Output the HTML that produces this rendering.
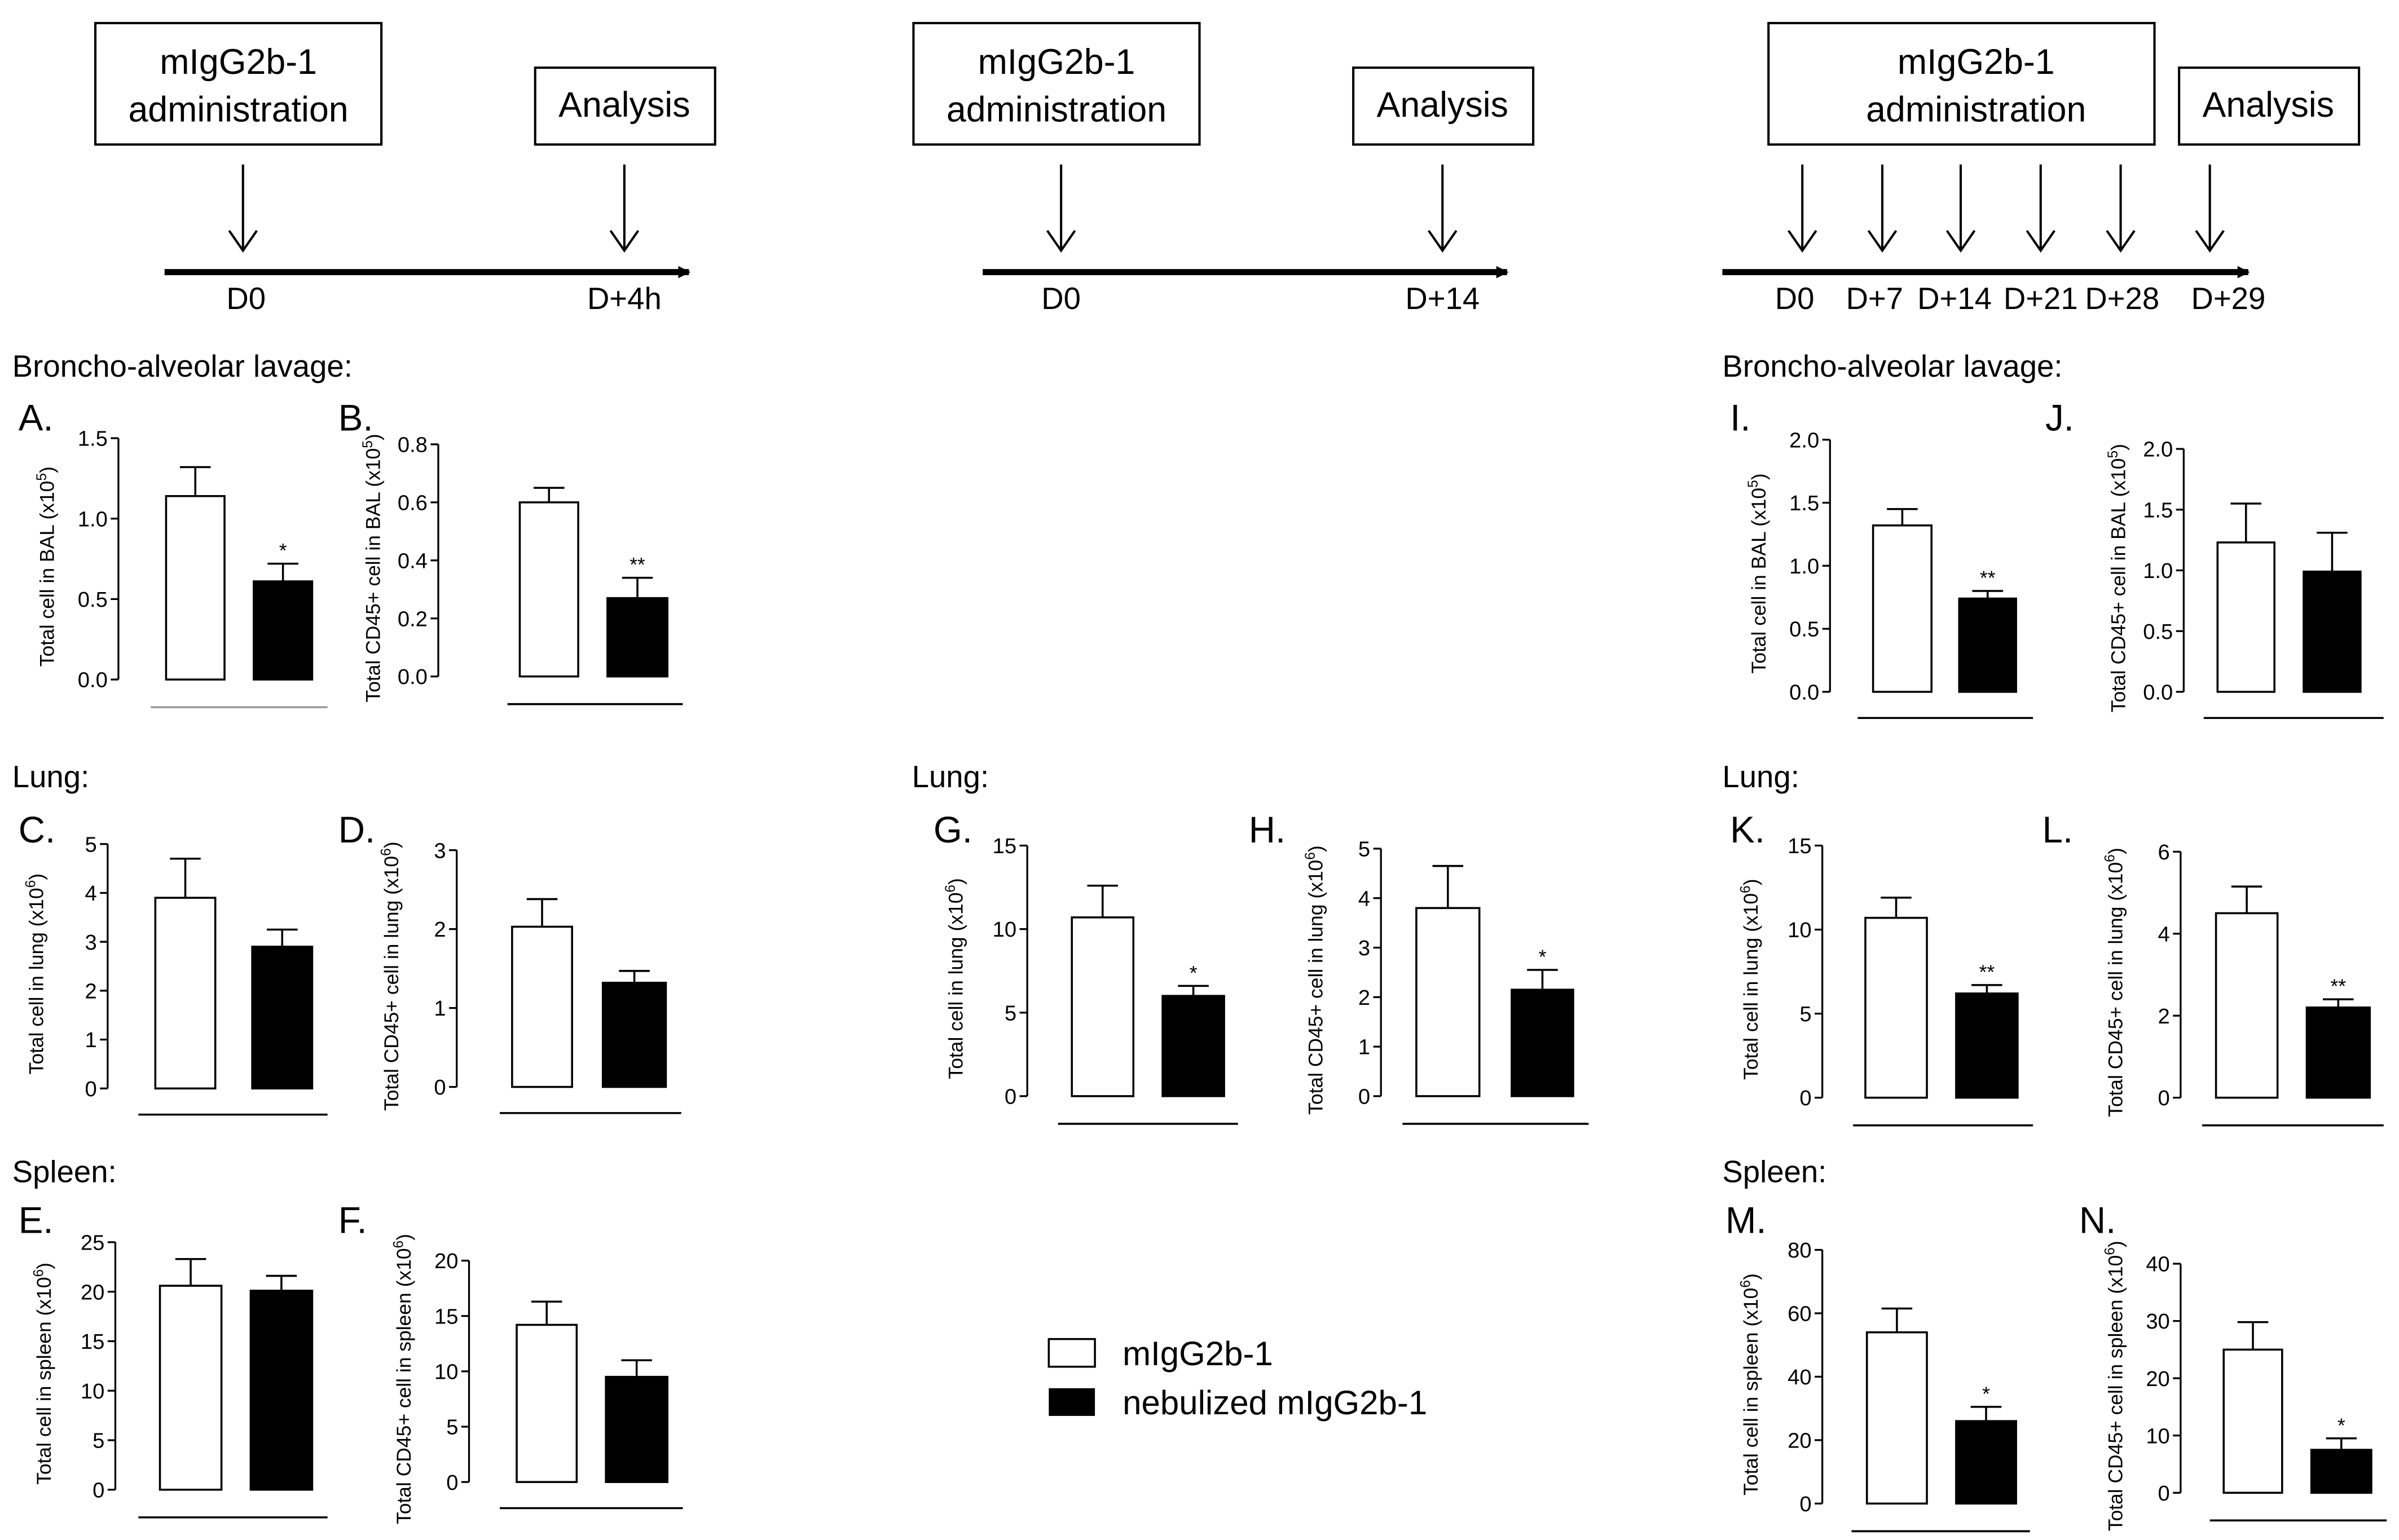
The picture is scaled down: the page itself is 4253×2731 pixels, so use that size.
<!DOCTYPE html>
<html><head><meta charset="utf-8"><style>
html,body{margin:0;padding:0;background:#fff;}
svg{display:block;font-family:"Liberation Sans",Arial,sans-serif;}
</style></head><body>
<svg id="fig" width="4253" height="2731" viewBox="0 0 1560 1001.7" xmlns="http://www.w3.org/2000/svg">
<defs><marker id="ah" markerWidth="8" markerHeight="8" refX="7" refY="4" orient="auto" markerUnits="userSpaceOnUse"><path d="M0,0 L8,4 L0,8 z" fill="#000"/></marker></defs>
<g id="timelines" font-size="23" fill="#000">
  <rect x="62" y="15" width="186" height="79" fill="#fff" stroke="#000" stroke-width="1.5"/>
  <text x="155" y="48" text-anchor="middle">mIgG2b-1</text>
  <text x="155" y="79" text-anchor="middle">administration</text>
  <rect x="348" y="44" width="117" height="50" fill="#fff" stroke="#000" stroke-width="1.5"/>
  <text x="406" y="76" text-anchor="middle">Analysis</text>
  <rect x="594" y="15" width="186" height="79" fill="#fff" stroke="#000" stroke-width="1.5"/>
  <text x="687" y="48" text-anchor="middle">mIgG2b-1</text>
  <text x="687" y="79" text-anchor="middle">administration</text>
  <rect x="880" y="44" width="117" height="50" fill="#fff" stroke="#000" stroke-width="1.5"/>
  <text x="938" y="76" text-anchor="middle">Analysis</text>
  <rect x="1150" y="15" width="251" height="79" fill="#fff" stroke="#000" stroke-width="1.5"/>
  <text x="1285" y="48" text-anchor="middle">mIgG2b-1</text>
  <text x="1285" y="79" text-anchor="middle">administration</text>
  <rect x="1417" y="44" width="117" height="50" fill="#fff" stroke="#000" stroke-width="1.5"/>
  <text x="1475" y="76" text-anchor="middle">Analysis</text>
</g>
<g id="charts"></g>
<g font-size="22">
  <rect x="682" y="871" width="30" height="18" fill="#fff" stroke="#000" stroke-width="1.3"/>
  <text x="730" y="888">mIgG2b-1</text>
  <rect x="682" y="903" width="30" height="18" fill="#000"/>
  <text x="730" y="920">nebulized mIgG2b-1</text>
</g>
</svg>
<script>
var NS="http://www.w3.org/2000/svg";
// timelines data
var tl1Days=["D0","D+4h"];
var tl2Days=["D0","D+14"];
var tl3Days=["D0","D+7","D+14","D+21","D+28","D+29"];
// panel values: [control, nebulized]
var panelIds=["A","B","I","J","C","D","G","H","K","L","E","F","M","N"];
var meanA=[1.14,0.61], errA=[1.32,0.72], ticksA=["0.0","0.5","1.0","1.5"];
var meanB=[0.60,0.27], errB=[0.65,0.34], ticksB=["0.0","0.2","0.4","0.6","0.8"];
var meanI=[1.32,0.74], errI=[1.45,0.80], ticksI=["0.0","0.5","1.0","1.5","2.0"];
var meanJ=[1.23,0.99], errJ=[1.55,1.31], ticksJ=["0.0","0.5","1.0","1.5","2.0"];
var meanC=[3.9,2.9], errC=[4.7,3.25], ticksC=["0","1","2","3","4","5"];
var meanD=[2.03,1.32], errD=[2.38,1.47], ticksD=["0","1","2","3"];
var meanG=[10.7,6.0], errG=[12.6,6.6], ticksG=["0","5","10","15"];
var meanH=[3.8,2.15], errH=[4.65,2.55], ticksH=["0","1","2","3","4","5"];
var meanK=[10.7,6.2], errK=[11.9,6.7], ticksK=["0","5","10","15"];
var meanL=[4.5,2.2], errL=[5.15,2.4], ticksL=["0","2","4","6"];
var meanE=[20.6,20.1], errE=[23.3,21.6], ticksE=["0","5","10","15","20","25"];
var meanF=[14.2,9.5], errF=[16.3,11.0], ticksF=["0","5","10","15","20"];
var meanM=[54,26], errM=[61.5,30.5], ticksM=["0","20","40","60","80"];
var meanN=[25,7.5], errN=[29.8,9.5], ticksN=["0","10","20","30","40"];
var sigLabels={A:"*",B:"**",I:"**",J:"",C:"",D:"",G:"*",H:"*",K:"**",L:"**",E:"",F:"",M:"*",N:"*"};
var yTitles={A:"Total cell in BAL (x10",B:"Total CD45+ cell in BAL (x10",I:"Total cell in BAL (x10",J:"Total CD45+ cell in BAL (x10",
C:"Total cell in lung (x10",D:"Total CD45+ cell in lung (x10",G:"Total cell in lung (x10",H:"Total CD45+ cell in lung (x10",
K:"Total cell in lung (x10",L:"Total CD45+ cell in lung (x10",E:"Total cell in spleen (x10",F:"Total CD45+ cell in spleen (x10",
M:"Total cell in spleen (x10",N:"Total CD45+ cell in spleen (x10"};
var exps={A:"5",B:"5",I:"5",J:"5",C:"6",D:"6",G:"6",H:"6",K:"6",L:"6",E:"6",F:"6",M:"6",N:"6"};
var sectionLabels=[["Broncho-alveolar lavage:",8,245],["Broncho-alveolar lavage:",1120,245],["Lung:",8,512],["Lung:",593,512],["Lung:",1120,512],["Spleen:",8,769],["Spleen:",1120,769]];
// layout (not data)
var L={
A:{ax:77,top:285,bot:442,w:[108,146],b:[165,203],bl:[98,213,460],lx:12,ly:280},
B:{ax:285,top:289,bot:440,w:[338,376],b:[395,434],bl:[330,444,458],lx:220,ly:280},
I:{ax:1190,top:286,bot:450,w:[1218,1256],b:[1274,1311],bl:[1208,1322,467],lx:1125,ly:280},
J:{ax:1420,top:292,bot:450,w:[1442,1479],b:[1498,1535],bl:[1433,1550,467],lx:1330,ly:280},
C:{ax:70,top:549,bot:708,w:[101,140],b:[164,203],bl:[90,213,725],lx:12,ly:548},
D:{ax:297,top:553,bot:707,w:[333,372],b:[392,433],bl:[325,443,724],lx:220,ly:548},
G:{ax:668,top:550,bot:713,w:[697,737],b:[756,796],bl:[688,805,731],lx:607,ly:548},
H:{ax:898,top:552,bot:713,w:[921,962],b:[983,1023],bl:[912,1033,731],lx:812,ly:548},
K:{ax:1185,top:550,bot:714,w:[1213,1253],b:[1272,1312],bl:[1205,1322,732],lx:1125,ly:548},
L:{ax:1418,top:554,bot:714,w:[1441,1481],b:[1500,1541],bl:[1432,1550,732],lx:1328,ly:548},
E:{ax:75,top:808,bot:969,w:[104,144],b:[163,203],bl:[90,213,987],lx:12,ly:802},
F:{ax:305,top:820,bot:964,w:[336,375],b:[394,434],bl:[325,444,981],lx:220,ly:802},
M:{ax:1185,top:813,bot:978,w:[1214,1253],b:[1272,1311],bl:[1204,1320,996],lx:1122,ly:802},
N:{ax:1418,top:822,bot:971,w:[1446,1484],b:[1503,1542],bl:[1437,1552,989],lx:1352,ly:802}};
var DATA={A:[meanA,errA,ticksA],B:[meanB,errB,ticksB],I:[meanI,errI,ticksI],J:[meanJ,errJ,ticksJ],C:[meanC,errC,ticksC],D:[meanD,errD,ticksD],G:[meanG,errG,ticksG],H:[meanH,errH,ticksH],K:[meanK,errK,ticksK],L:[meanL,errL,ticksL],E:[meanE,errE,ticksE],F:[meanF,errF,ticksF],M:[meanM,errM,ticksM],N:[meanN,errN,ticksN]};
var root=document.getElementById('charts');
function mk(tag,attrs,parent,txt){var e=document.createElementNS(NS,tag);for(var k in attrs)e.setAttribute(k,attrs[k]);if(txt!=null)e.textContent=txt;parent.appendChild(e);return e;}
function line(p,x1,y1,x2,y2,w,c){return mk('line',{x1:x1,y1:y1,x2:x2,y2:y2,stroke:c||'#000','stroke-width':w||1.2},p);}
// timelines
function timeline(days,xs,x0,x1,arrowXs){
  var g=mk('g',{},root);
  
  
  var ax=mk('line',{x1:x0,y1:177,x2:x1,y2:177,stroke:'#000','stroke-width':4,'marker-end':'url(#ah)'},g);
  
  
  for(var i=0;i<arrowXs.length;i++){
    var a=mk('line',{x1:arrowXs[i],y1:107,x2:arrowXs[i],y2:162,stroke:'#000','stroke-width':1.5},g);
    
    
    var x=arrowXs[i];
    mk('path',{d:'M'+(x-9)+',150 L'+x+',163 L'+(x+9)+',150',fill:'none',stroke:'#000','stroke-width':1.5},g);
  }
  for(var j=0;j<days.length;j++){
    var t=mk('text',{x:xs[j],y:201,'text-anchor':'middle','font-size':20},g,days[j]);
    
    
  }
}
timeline(tl1Days,[160,406],107,448,[158,406]);
timeline(tl2Days,[690,938],639,980,[690,938]);
timeline(tl3Days,[1167,1219,1271,1327,1380,1449],1120,1462,[1172,1224,1275,1327,1379,1437]);
sectionLabels.forEach(function(s){
  var t=mk('text',{x:s[1],y:s[2],'font-size':20},root,s[0]);
  
  
});
panelIds.forEach(function(id){
  var l=L[id],d=DATA[id],means=d[0],errs=d[1],ticks=d[2];
  var maxV=parseFloat(ticks[ticks.length-1]);
  function y(v){return l.bot-(v/maxV)*(l.bot-l.top);}
  var g=mk('g',{},root);
  
  
  var pl=mk('text',{x:l.lx,y:l.ly,'font-size':24},g,id+'.');
  
  
  var axl=line(g,l.ax,l.top,l.ax,l.bot,1.2);
  
  
  ticks.forEach(function(tv){
    var yy=y(parseFloat(tv));
    line(g,l.ax-5,yy,l.ax,yy,1.2);
    var t=mk('text',{x:l.ax-7,y:yy+5,'text-anchor':'end','font-size':14},g,tv);
    
    
  });
  var cy=(l.top+l.bot)/2, tx=l.lx+22;
  if(id==='B'||id==='D'||id==='H'||id==='J'||id==='L'||id==='F'||id==='N') tx=l.ax-38; else tx=l.ax-42;
  var yt=mk('text',{x:0,y:0,'text-anchor':'middle','font-size':13,transform:'translate('+tx+','+(cy+5)+') rotate(-90)'},g);
  
  
  yt.appendChild(document.createTextNode(yTitles[id]));
  var sup=mk('tspan',{dy:-5,'font-size':9},yt,exps[id]);
  mk('tspan',{dy:5},yt,')');
  var xs=[l.w,l.b];
  for(var i=0;i<2;i++){
    var x0=xs[i][0],x1=xs[i][1],xm=(x0+x1)/2;
    var et=y(errs[i]),bt=y(means[i]);
    var e1=line(g,xm,et,xm,bt,1.3);
    
    
    line(g,xm-10,et,xm+10,et,1.3);
    var r=mk('rect',{x:x0,y:bt,width:x1-x0,height:l.bot-bt,fill:i?'#000':'#fff',stroke:'#000','stroke-width':1.3},g);
    
    
  }
  if(sigLabels[id]){
    var s=mk('text',{x:(l.b[0]+l.b[1])/2,y:y(errs[1])-4,'text-anchor':'middle','font-size':13},g,sigLabels[id]);
    
    
  }
  var b=line(g,l.bl[0],l.bl[2],l.bl[1],l.bl[2],1.3,(id==='A')?'#999':'#000');
  
  
});
</script>
</body></html>
